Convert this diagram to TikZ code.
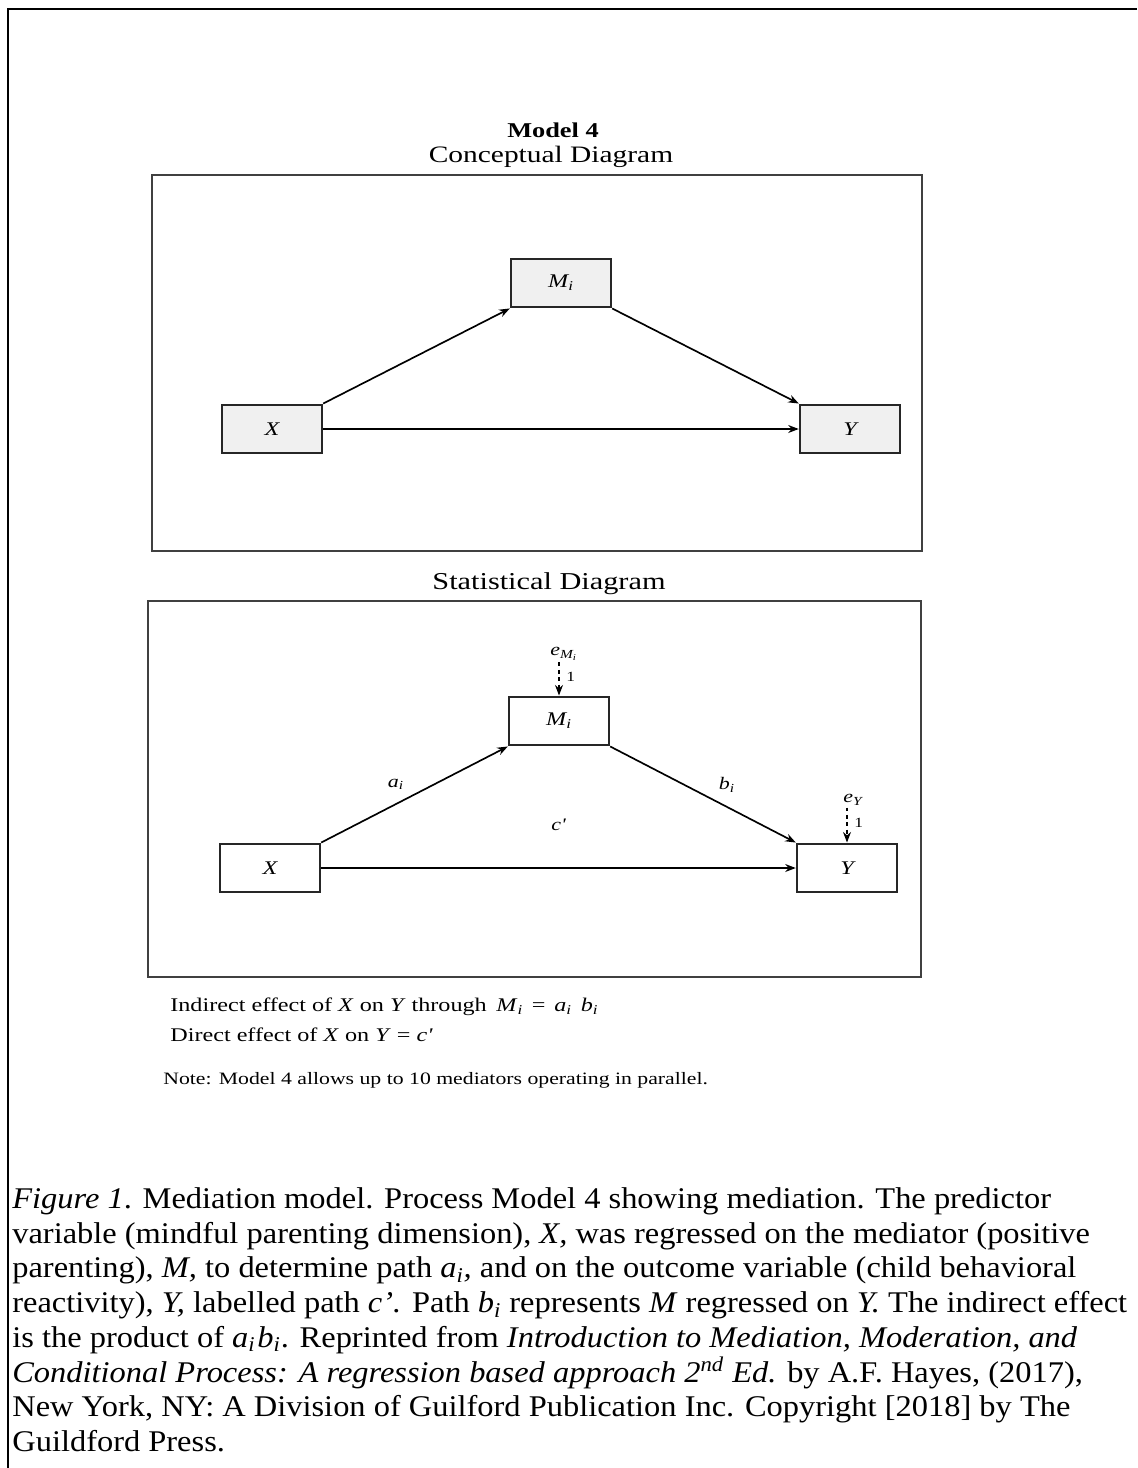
\documentclass[tikz,border=0pt]{standalone}
\usepackage{fontspec}
\usetikzlibrary{arrows.meta}
\setmainfont{Liberation Serif}
\newfontfamily\figfont[FakeStretch=1.25]{Liberation Serif}
\newfontfamily\capfont[FakeStretch=1.08]{Liberation Serif}
\newcommand{\subi}[1]{\textit{#1}\textsubscript{\textit{i}}}
\tikzset{
  varbox/.style={draw=black!85, line width=1.4pt, minimum width=2cm, minimum height=0.97cm, font=\figfont\fontsize{11}{13}\selectfont\itshape},
  shaded/.style={varbox, fill=gray!12},
  plain/.style={varbox, fill=white},
  frame/.style={draw=black!75, line width=1.3pt},
  path/.style={->, line width=0.95pt},
  err/.style={->, dash pattern=on 2.2pt off 2pt, line width=1.6pt},
  lab/.style={font=\figfont\fontsize{10}{12}\selectfont\itshape},
  figtext/.style={font=\figfont\fontsize{11}{13}\selectfont, anchor=west, inner sep=0pt}
}
\begin{document}
\begin{tikzpicture}[x=0.02cm, y=-0.02cm, >={Stealth[length=6pt,width=4.5pt]}]
\useasboundingbox (0,0) rectangle (1137,1468);
\draw[line width=1.7pt] (8,1468) -- (8,9) -- (1137,9);
% conceptual diagram
\node[font=\figfont\fontsize{12}{14}\selectfont\bfseries] (title) at (553,130) {Model 4};
\node[font=\figfont\fontsize{13.4}{15}\selectfont] (ctitle) at (551,157) {Conceptual Diagram};
\draw[frame] (152,175) rectangle (922,551);
\node[shaded] (cM) at (561,283) {\subi{M}};
\node[shaded] (cX) at (272,429) {X};
\node[shaded] (cY) at (850,429) {Y};
\draw[path] (cX.north east) -- (cM.south west);
\draw[path] (cM.south east) -- (cY.north west);
\draw[path] (cX.east) -- (cY.west);
% statistical diagram
\node[font=\figfont\fontsize{13.8}{15}\selectfont] (stitle) at (549,584) {Statistical Diagram};
\draw[frame] (148,601) rectangle (921,977);
\node[plain] (sM) at (559,721) {\subi{M}};
\node[plain] (sX) at (270,868) {X};
\node[plain] (sY) at (847,868) {Y};
\node[lab, inner sep=1pt] (eM) at (564,654) {e\textsubscript{\subi{M}}};
\node[lab, inner sep=1pt] (eY) at (853,800) {e\textsubscript{\textit{Y}}};
\draw[err] (eM.south -| sM.north) -- node[right, font=\figfont\fontsize{8}{9}\selectfont, pos=.45]{1} (sM.north);
\draw[err] (eY.south -| sY.north) -- node[right, font=\figfont\fontsize{8}{9}\selectfont, pos=.45]{1} (sY.north);
\draw[path] (sX.north east) -- node[lab, above left, pos=.48]{\subi{a}} (sM.south west);
\draw[path] (sM.south east) -- node[lab, above right, pos=.55]{\subi{b}} (sY.north west);
\draw[path] (sX.east) -- node[lab, above=0.62cm]{c'} (sY.west);
% effects
\node[figtext] (ind) at (170,1007) {Indirect effect of \textit{X} on \textit{Y} through\hspace{2pt} \subi{M}\hspace{5pt}=\hspace{5pt}\subi{a}\hspace{5pt}\subi{b}};
\node[figtext] (dir) at (170,1035) {Direct effect of \textit{X} on \textit{Y} = \textit{c'}};
\node[figtext, font=\figfont\fontsize{9.9}{11}\selectfont] (note) at (163,1080) {Note: Model 4 allows up to 10 mediators operating in parallel.};
% caption
\node[anchor=north west, align=left, inner sep=0pt, font=\capfont\fontsize{17.1}{19.8}\selectfont] (caption) at (12,1187) {%
\textit{Figure 1}. Mediation model. Process Model 4 showing mediation. The predictor\\
variable (mindful parenting dimension), \textit{X,} was regressed on the mediator (positive\\
parenting), \textit{M,} to determine path \textit{a\textsubscript{i},} and on the outcome variable (child behavioral\\
reactivity), \textit{Y,} labelled path \textit{c’.} Path \textit{b\textsubscript{i}} represents \textit{M} regressed on \textit{Y.} The indirect effect\\
is the product of \textit{a\textsubscript{i}\kern1pt b\textsubscript{i}}. Reprinted from \textit{Introduction to Mediation, Moderation, and}\\
\textit{Conditional Process: A regression based approach 2\textsuperscript{nd} Ed.} by A.F. Hayes, (2017),\\
New York, NY: A Division of Guilford Publication Inc. Copyright [2018] by The\\
Guildford Press.};
\end{tikzpicture}
\end{document}
